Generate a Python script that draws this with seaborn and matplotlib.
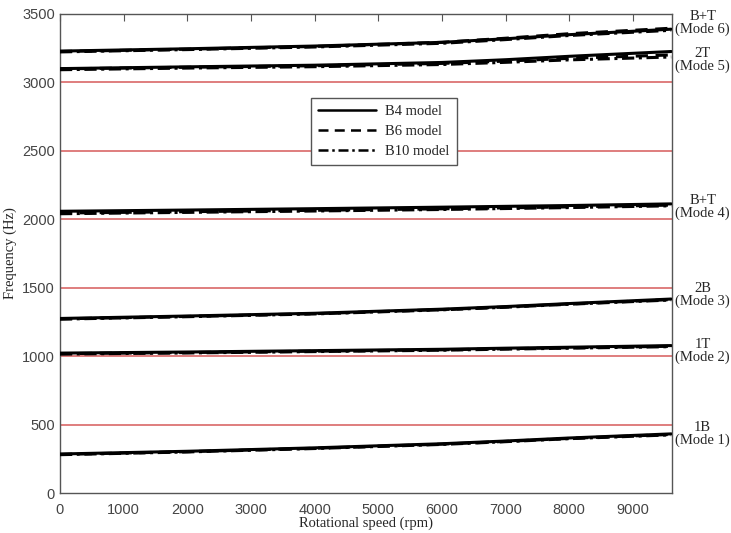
import matplotlib
matplotlib.use("Agg")
import matplotlib.pyplot as plt
import seaborn as sns
import pandas as pd
from matplotlib.lines import Line2D

sns.set_style("white")

# velocidades de giro (rpm)
rpm = [0, 2000, 4000, 6000, 7000, 8000, 9600]

# frecuencias por modo (Hz) para cada modelo
b4 = {
    "Mode 1": [285, 305, 330, 360, 380, 402, 432],
    "Mode 2": [1022, 1030, 1040, 1050, 1058, 1065, 1077],
    "Mode 3": [1275, 1293, 1313, 1343, 1362, 1384, 1417],
    "Mode 4": [2058, 2067, 2077, 2088, 2094, 2100, 2112],
    "Mode 5": [3100, 3113, 3125, 3145, 3165, 3190, 3225],
    "Mode 6": [3228, 3245, 3265, 3292, 3318, 3348, 3388],
}
b6 = {
    "Mode 1": [282, 302, 327, 357, 377, 399, 428],
    "Mode 2": [1018, 1026, 1036, 1046, 1054, 1061, 1072],
    "Mode 3": [1272, 1290, 1310, 1340, 1359, 1381, 1413],
    "Mode 4": [2045, 2055, 2065, 2076, 2083, 2090, 2103],
    "Mode 5": [3098, 3110, 3121, 3138, 3155, 3175, 3200],
    "Mode 6": [3225, 3242, 3262, 3292, 3322, 3355, 3395],
}
b10 = {
    "Mode 1": [280, 300, 325, 355, 375, 397, 425],
    "Mode 2": [1015, 1023, 1033, 1043, 1051, 1058, 1069],
    "Mode 3": [1270, 1288, 1308, 1338, 1357, 1379, 1410],
    "Mode 4": [2040, 2050, 2060, 2071, 2078, 2085, 2098],
    "Mode 5": [3092, 3104, 3114, 3130, 3146, 3164, 3185],
    "Mode 6": [3222, 3239, 3258, 3285, 3312, 3342, 3380],
}

niveles_rojos = [500, 1000, 1500, 2000, 2500, 3000]
etiquetas_modo = {
    "Mode 1": ("1B\n(Mode 1)", 433),
    "Mode 2": ("1T\n(Mode 2)", 1037),
    "Mode 3": ("2B\n(Mode 3)", 1446),
    "Mode 4": ("B+T\n(Mode 4)", 2089),
    "Mode 5": ("2T\n(Mode 5)", 3164),
    "Mode 6": ("B+T\n(Mode 6)", 3434),
}

filas = []
for modelo, datos in [("B4 model", b4), ("B6 model", b6), ("B10 model", b10)]:
    for modo, valores in datos.items():
        for r, f in zip(rpm, valores):
            filas.append({"rpm": r, "freq": f, "modelo": modelo, "modo": modo})
df = pd.DataFrame(filas)

estilos = {"B4 model": "-", "B6 model": (0, (4, 2.5)), "B10 model": (0, (4, 1.5, 1, 1.5))}

fig = plt.figure(figsize=(7.31, 5.33), dpi=100)
ax = fig.add_axes([0.082, 0.075, 0.837, 0.899])

for nivel in niveles_rojos:
    ax.axhline(nivel, color="#d65a5a", lw=1.1, zorder=1)

for (modelo, modo), grupo in df.groupby(["modelo", "modo"]):
    sns.lineplot(data=grupo, x="rpm", y="freq", ax=ax, color="black",
                 linestyle=estilos[modelo], lw=2.2, legend=False, zorder=3)

ax.set_xlim(0, 9610)
ax.set_ylim(0, 3500)
ax.set_xticks(range(0, 9001, 1000))
ax.set_yticks(range(0, 3501, 500))
ax.tick_params(direction="in", top=True, right=False, length=5, color="#555555",
               labelsize=10.5, labelcolor="#444444")
ax.tick_params(axis="x", pad=7)
for t in ax.get_xticklabels() + ax.get_yticklabels():
    t.set_family("Liberation Sans")
for s in ax.spines.values():
    s.set_color("#555555")
    s.set_linewidth(1.0)

ax.set_xlabel("Rotational speed (rpm)", family="Liberation Serif", fontsize=10.5, labelpad=0)
ax.set_ylabel("Frequency (Hz)", family="Liberation Serif", fontsize=10.5, labelpad=4)

for modo, (texto, yv) in etiquetas_modo.items():
    ax.text(1.0505, yv, texto, transform=ax.get_yaxis_transform(), ha="center", va="center",
            family="Liberation Serif", fontsize=10.5, linespacing=1.0)

manejadores = [Line2D([], [], color="black", lw=1.8, linestyle=estilos[m]) for m in estilos]
leg = ax.legend(manejadores, list(estilos), loc="upper left", bbox_to_anchor=(0.398, 0.84),
                prop={"family": "Liberation Serif", "size": 10.5}, handlelength=4.0,
                fancybox=False, framealpha=1, edgecolor="#555555", borderpad=0.5,
                labelspacing=0.45, handletextpad=0.6)
leg.get_frame().set_linewidth(1.0)

fig.savefig("out.png", dpi=100)
